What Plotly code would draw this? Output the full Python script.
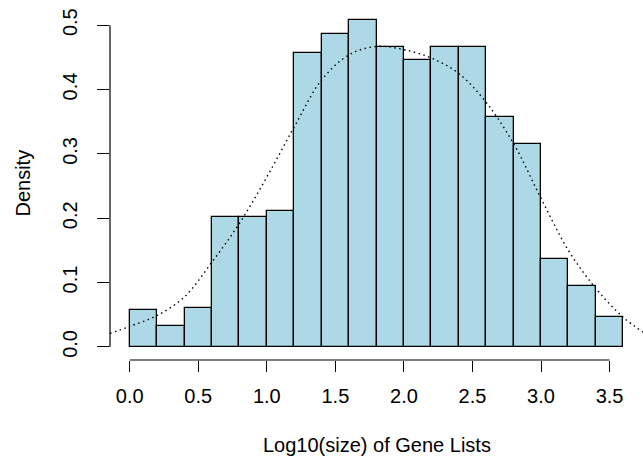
import plotly.graph_objects as go

# Histogram (density scale), bins of width 0.2
bin_left = [0.0, 0.2, 0.4, 0.6, 0.8, 1.0, 1.2, 1.4, 1.6, 1.8, 2.0, 2.2, 2.4, 2.6, 2.8, 3.0, 3.2, 3.4]
density = [0.057, 0.032, 0.061, 0.202, 0.202, 0.212, 0.457, 0.486, 0.508, 0.466,
           0.446, 0.466, 0.466, 0.358, 0.316, 0.137, 0.095, 0.047]
bin_width = 0.2

# Dotted density curve
curve_x = [-0.144, 0.0, 0.2, 0.4, 0.6, 0.8, 1.0, 1.2, 1.4, 1.6, 1.8, 2.0, 2.2, 2.4,
           2.6, 2.8, 3.0, 3.2, 3.4, 3.6, 3.744]
curve_y = [0.021, 0.032, 0.049, 0.078, 0.132, 0.192, 0.264, 0.342, 0.415, 0.454, 0.467,
           0.462, 0.449, 0.425, 0.380, 0.316, 0.231, 0.150, 0.091, 0.046, 0.023]

x_ticks = [0.0, 0.5, 1.0, 1.5, 2.0, 2.5, 3.0, 3.5]
y_ticks = [0.0, 0.1, 0.2, 0.3, 0.4, 0.5]

FONT = "Liberation Sans, Arial, sans-serif"
FS = 20

centers = [b + bin_width / 2 for b in bin_left]

fig = go.Figure()
fig.add_trace(go.Bar(
    x=centers, y=density, width=[bin_width] * len(centers),
    marker=dict(color="#ADD8E6", line=dict(color="black", width=1.3)),
    hoverinfo="x+y", showlegend=False,
))
fig.add_trace(go.Scatter(
    x=curve_x, y=curve_y, mode="lines",
    line=dict(color="black", width=1.4, dash="1.5px,3.5px", shape="spline"),
    showlegend=False,
))

fig.update_layout(
    width=643, height=457,
    margin=dict(l=110, r=0, t=7, b=97, autoexpand=False),
    paper_bgcolor="white", plot_bgcolor="white",
    bargap=0,
    font=dict(family=FONT, size=FS, color="black"),
    xaxis=dict(
        range=[-0.144, 3.744], tickvals=x_ticks,
        ticktext=[f"{v:.1f}" for v in x_ticks],
        ticks="outside", ticklen=11, tickwidth=1, tickcolor="black",
        showgrid=False, zeroline=False, showline=False,
        ticklabelstandoff=7, automargin=False,
    ),
    yaxis=dict(
        range=[-0.0203, 0.5283], tickvals=y_ticks,
        ticktext=[f"{v:.1f}" for v in y_ticks],
        ticks="outside", ticklen=12, tickwidth=1, tickcolor="black",
        tickangle=-90,
        showgrid=False, zeroline=False, showline=False,
        ticklabelstandoff=12, automargin=False,
    ),
    shapes=[
        dict(type="line", xref="x", yref="paper", x0=0, x1=3.5, y0=0, y1=0,
             line=dict(color="black", width=1.2)),
        dict(type="line", xref="paper", yref="y", x0=0, x1=0, y0=0, y1=0.5,
             line=dict(color="black", width=1.2)),
    ],
    annotations=[
        dict(text="Log10(size) of Gene Lists", xref="paper", yref="paper",
             x=0.5, y=-0.24, xanchor="center", yanchor="middle",
             showarrow=False, font=dict(family=FONT, size=FS, color="black")),
        dict(text="Density", xref="paper", yref="paper",
             x=-0.165, y=0.5, xanchor="center", yanchor="middle", textangle=-90,
             showarrow=False, font=dict(family=FONT, size=FS, color="black")),
    ],
)

fig.write_html("out.html", config={"displayModeBar": False},
               post_script="document.body.style.margin='0';")
